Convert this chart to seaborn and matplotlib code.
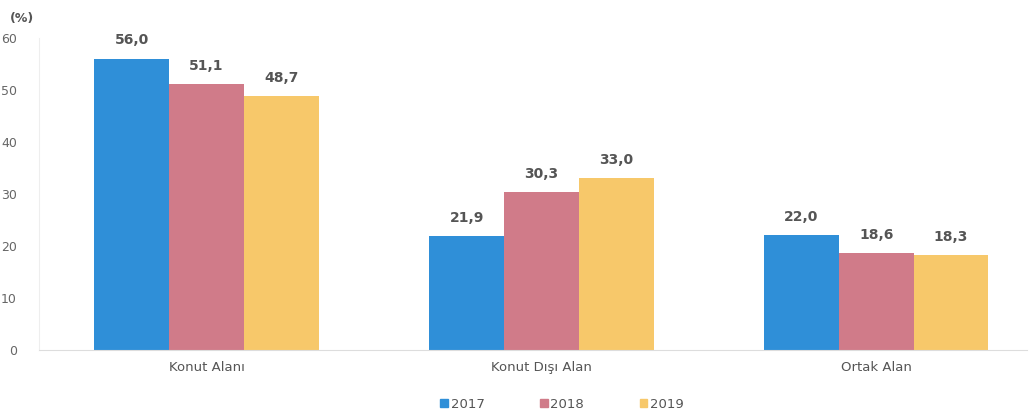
import pandas as pd
import matplotlib.pyplot as plt
import seaborn as sns

# Daten
categories = ["Konut Alanı", "Konut Dışı Alan", "Ortak Alan"]
years = ["2017", "2018", "2019"]
values_2017 = [56.0, 21.9, 22.0]
values_2018 = [51.1, 30.3, 18.6]
values_2019 = [48.7, 33.0, 18.3]
colors = ["#2f8fd8", "#d07b89", "#f7c86a"]

df = pd.DataFrame({
    "kategori": categories * 3,
    "yil": [y for y in years for _ in categories],
    "deger": values_2017 + values_2018 + values_2019,
})

sns.set_style("white")
plt.rcParams['font.family'] = ['DejaVu Sans']

fig = plt.figure(figsize=(10.31, 4.19), dpi=100)
ax = fig.add_axes([0.038, 0.165, 0.958, 0.745])
sns.barplot(data=df, x="kategori", y="deger", hue="yil", palette=colors,
            width=0.67, saturation=1, linewidth=0, ax=ax, legend=False)

for cont in ax.containers:
    ax.bar_label(cont, labels=[f"{v:.1f}".replace(".", ",") for v in cont.datavalues],
                 padding=8, fontsize=10, fontweight='bold', color='#555555')

ax.set_ylim(0, 60)
ax.set_xlim(-0.5, 2.45)
ax.set_yticks(range(0, 61, 10))
ax.tick_params(axis='y', colors='#666666', labelsize=9, length=0, pad=16)
ax.tick_params(axis='x', colors='#555555', labelsize=9.5, length=0, pad=8)
ax.set_xlabel("")
ax.set_ylabel("")
for s in ["top", "right"]:
    ax.spines[s].set_visible(False)
ax.spines["left"].set_color("#eeeeee")
ax.spines["bottom"].set_color("#dddddd")

fig.text(0.01, 0.955, "(%)", fontsize=9, fontweight='bold', color='#555555', va='center')

# Legende
handles = [plt.Rectangle((0, 0), 1, 1, color=c) for c in colors]
fig.legend(handles, years, loc='center', bbox_to_anchor=(0.545, 0.035), ncol=3,
           frameon=False, fontsize=9.5, handlelength=0.6, handleheight=0.6,
           handletextpad=0.2, columnspacing=4.2, labelcolor='#555555')

plt.savefig("out.png", dpi=100)
